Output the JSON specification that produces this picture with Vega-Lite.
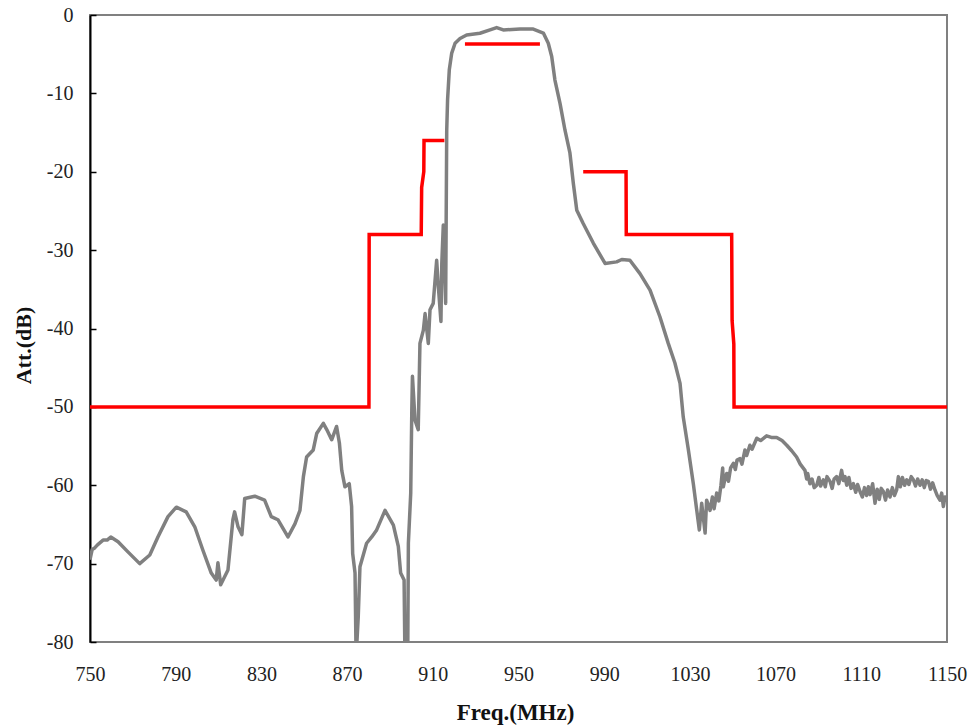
{
  "$schema": "https://vega.github.io/schema/vega-lite/v6.json",
  "width": 857,
  "height": 627,
  "autosize": {"type": "none"},
  "padding": {"left": 90, "top": 15, "right": 26, "bottom": 86},
  "background": "white",
  "config": {
    "view": {"stroke": "#808080", "strokeWidth": 2},
    "font": "Liberation Serif",
    "axis": {"grid": false, "labelFont": "Liberation Serif", "titleFont": "Liberation Serif", "labelColor": "#222", "titleColor": "#111"}
  },
  "datasets": {
    "meas": [
      {"f": 750.0, "db": -69.5}, {"f": 751.0, "db": -68.2}, {"f": 752.2, "db": -68.0}, {"f": 753.5, "db": -67.6}, {"f": 756.1, "db": -67.0}, {"f": 758.0, "db": -67.0}, {"f": 759.7, "db": -66.6},
      {"f": 763.1, "db": -67.2}, {"f": 767.7, "db": -68.5}, {"f": 773.2, "db": -70.0}, {"f": 777.9, "db": -68.9}, {"f": 781.7, "db": -66.6}, {"f": 786.4, "db": -64.0},
      {"f": 790.3, "db": -62.8}, {"f": 794.9, "db": -63.4}, {"f": 798.9, "db": -65.3}, {"f": 802.7, "db": -68.3}, {"f": 806.6, "db": -71.2}, {"f": 808.9, "db": -72.1},
      {"f": 809.7, "db": -69.9}, {"f": 811.0, "db": -72.7}, {"f": 814.4, "db": -70.8}, {"f": 816.7, "db": -64.4}, {"f": 817.5, "db": -63.4}, {"f": 819.1, "db": -65.3},
      {"f": 820.9, "db": -66.3}, {"f": 822.2, "db": -61.7}, {"f": 826.9, "db": -61.4}, {"f": 831.5, "db": -61.9}, {"f": 834.6, "db": -64.0}, {"f": 837.7, "db": -64.4},
      {"f": 842.4, "db": -66.6}, {"f": 845.7, "db": -64.9}, {"f": 848.0, "db": -63.2}, {"f": 849.6, "db": -58.9}, {"f": 851.1, "db": -56.4}, {"f": 854.2, "db": -55.5},
      {"f": 855.8, "db": -53.4}, {"f": 858.9, "db": -52.1}, {"f": 860.5, "db": -52.9}, {"f": 862.8, "db": -54.2}, {"f": 865.1, "db": -52.5}, {"f": 866.4, "db": -54.6},
      {"f": 867.5, "db": -58.1}, {"f": 869.0, "db": -60.2}, {"f": 871.0, "db": -59.8}, {"f": 872.1, "db": -62.7}, {"f": 872.6, "db": -68.7}, {"f": 873.7, "db": -71.2},
      {"f": 874.2, "db": -82}, {"f": 875.2, "db": -76.8}, {"f": 876.0, "db": -70.4}, {"f": 879.1, "db": -67.4}, {"f": 881.5, "db": -66.6}, {"f": 883.8, "db": -65.7},
      {"f": 887.7, "db": -63.2}, {"f": 891.6, "db": -65.1}, {"f": 893.9, "db": -67.8}, {"f": 895.0, "db": -71.2}, {"f": 896.6, "db": -72.1}, {"f": 897.0, "db": -82},
      {"f": 898.3, "db": -82}, {"f": 898.6, "db": -67.4}, {"f": 899.7, "db": -61.0}, {"f": 900.2, "db": -50.4}, {"f": 900.5, "db": -46.1}, {"f": 901.7, "db": -51.7},
      {"f": 903.2, "db": -52.9}, {"f": 904.0, "db": -41.9}, {"f": 905.6, "db": -40.2}, {"f": 906.4, "db": -38.1}, {"f": 907.9, "db": -41.9}, {"f": 908.7, "db": -37.6},
      {"f": 910.2, "db": -36.8}, {"f": 911.8, "db": -31.3}, {"f": 912.6, "db": -34.7}, {"f": 913.8, "db": -39.1}, {"f": 914.2, "db": -31.7}, {"f": 914.9, "db": -26.8},
      {"f": 916.0, "db": -36.8}, {"f": 916.5, "db": -14.7}, {"f": 916.9, "db": -10.8}, {"f": 917.7, "db": -7.0}, {"f": 918.8, "db": -4.9}, {"f": 920.4, "db": -3.6},
      {"f": 922.7, "db": -3.0}, {"f": 925.8, "db": -2.55}, {"f": 932.0, "db": -2.33}, {"f": 936.7, "db": -1.9}, {"f": 939.8, "db": -1.6}, {"f": 942.9, "db": -1.9},
      {"f": 950.7, "db": -1.8}, {"f": 956.9, "db": -1.8}, {"f": 961.6, "db": -2.3}, {"f": 963.9, "db": -3.6}, {"f": 965.5, "db": -5.3}, {"f": 967.0, "db": -8.3},
      {"f": 969.4, "db": -11.3}, {"f": 971.7, "db": -14.7}, {"f": 974.0, "db": -17.6}, {"f": 975.6, "db": -21.5}, {"f": 977.2, "db": -24.9}, {"f": 980.2, "db": -26.6},
      {"f": 984.9, "db": -29.1}, {"f": 990.4, "db": -31.7}, {"f": 995.8, "db": -31.5}, {"f": 998.2, "db": -31.2}, {"f": 1002.0, "db": -31.3}, {"f": 1006.7, "db": -33.0},
      {"f": 1011.4, "db": -35.1}, {"f": 1016.0, "db": -38.5}, {"f": 1019.9, "db": -41.9}, {"f": 1023.0, "db": -44.4}, {"f": 1025.4, "db": -47.0}, {"f": 1026.9, "db": -51.3},
      {"f": 1029.3, "db": -55.5}, {"f": 1031.6, "db": -59.8}, {"f": 1033.2, "db": -63.2}, {"f": 1034.4, "db": -65.7}, {"f": 1035.5, "db": -62.3}, {"f": 1037.1, "db": -66.1},
      {"f": 1037.8, "db": -61.9}, {"f": 1039.4, "db": -63.2}, {"f": 1040.5, "db": -61.5}, {"f": 1041.3, "db": -63.0}, {"f": 1042.5, "db": -61.0}, {"f": 1043.5, "db": -62.0},
      {"f": 1044.5, "db": -60.0}, {"f": 1045.3, "db": -57.8}, {"f": 1045.6, "db": -60.2}, {"f": 1046.5, "db": -59.0}, {"f": 1047.2, "db": -58.5}, {"f": 1048.0, "db": -59.5},
      {"f": 1049.0, "db": -57.8}, {"f": 1050.3, "db": -57.2}, {"f": 1051.2, "db": -58.0}, {"f": 1052.0, "db": -56.8}, {"f": 1053.4, "db": -56.6}, {"f": 1054.3, "db": -57.3},
      {"f": 1055.7, "db": -55.5}, {"f": 1056.5, "db": -56.2}, {"f": 1058.0, "db": -54.9}, {"f": 1059.0, "db": -55.4}, {"f": 1061.2, "db": -54.0}, {"f": 1063.0, "db": -54.3},
      {"f": 1065.8, "db": -53.7}, {"f": 1068.0, "db": -53.9}, {"f": 1070.5, "db": -53.9}, {"f": 1073.0, "db": -54.3}, {"f": 1075.2, "db": -54.9}, {"f": 1077.5, "db": -55.6},
      {"f": 1079.8, "db": -56.4}, {"f": 1081.5, "db": -57.3}, {"f": 1083.7, "db": -58.1}, {"f": 1084.5, "db": -59.2}, {"f": 1085.0, "db": -58.5}, {"f": 1086.0, "db": -59.8},
      {"f": 1087.0, "db": -59.2}, {"f": 1088.0, "db": -60.3}, {"f": 1089.2, "db": -60.0}, {"f": 1090.2, "db": -59.0}, {"f": 1091.0, "db": -60.1}, {"f": 1092.3, "db": -59.3},
      {"f": 1093.2, "db": -60.2}, {"f": 1094.0, "db": -58.9}, {"f": 1095.4, "db": -59.5}, {"f": 1096.4, "db": -60.4}, {"f": 1097.3, "db": -59.2}, {"f": 1098.5, "db": -58.9},
      {"f": 1099.5, "db": -59.8}, {"f": 1100.8, "db": -58.1}, {"f": 1101.6, "db": -59.4}, {"f": 1102.4, "db": -58.9}, {"f": 1103.2, "db": -60.0}, {"f": 1104.2, "db": -59.0},
      {"f": 1105.2, "db": -60.4}, {"f": 1106.3, "db": -59.8}, {"f": 1107.4, "db": -60.9}, {"f": 1108.3, "db": -59.9}, {"f": 1109.4, "db": -60.8}, {"f": 1110.5, "db": -61.5},
      {"f": 1111.5, "db": -60.3}, {"f": 1112.5, "db": -61.3}, {"f": 1113.3, "db": -60.2}, {"f": 1114.1, "db": -61.2}, {"f": 1115.3, "db": -59.8}, {"f": 1116.4, "db": -62.3},
      {"f": 1117.4, "db": -60.5}, {"f": 1118.4, "db": -61.8}, {"f": 1119.3, "db": -60.4}, {"f": 1120.3, "db": -60.8}, {"f": 1121.3, "db": -61.9}, {"f": 1122.3, "db": -60.6},
      {"f": 1123.4, "db": -61.5}, {"f": 1124.5, "db": -60.3}, {"f": 1125.5, "db": -61.3}, {"f": 1126.5, "db": -60.6}, {"f": 1127.3, "db": -58.9}, {"f": 1128.2, "db": -60.2},
      {"f": 1129.2, "db": -59.0}, {"f": 1130.2, "db": -60.0}, {"f": 1131.2, "db": -59.3}, {"f": 1132.2, "db": -59.9}, {"f": 1133.3, "db": -58.9}, {"f": 1134.3, "db": -59.3},
      {"f": 1135.3, "db": -60.1}, {"f": 1136.3, "db": -59.2}, {"f": 1137.4, "db": -60.0}, {"f": 1138.4, "db": -59.3}, {"f": 1139.4, "db": -60.3}, {"f": 1140.3, "db": -59.4},
      {"f": 1141.3, "db": -59.5}, {"f": 1142.3, "db": -60.5}, {"f": 1143.3, "db": -59.7}, {"f": 1144.4, "db": -60.6}, {"f": 1145.4, "db": -61.3}, {"f": 1146.7, "db": -61.9},
      {"f": 1147.5, "db": -61.0}, {"f": 1148.3, "db": -62.7}, {"f": 1149.1, "db": -61.5}, {"f": 1149.9, "db": -62.1}
    ],
    "mask": [
      {"f": 750, "db": -50, "seg": "a"}, {"f": 880.2, "db": -50, "seg": "a"}, {"f": 880.3, "db": -28, "seg": "a"}, {"f": 904.6, "db": -28, "seg": "a"},
      {"f": 904.8, "db": -22, "seg": "a"}, {"f": 905.8, "db": -20, "seg": "a"}, {"f": 905.9, "db": -16, "seg": "a"}, {"f": 915.4, "db": -16, "seg": "a"},
      {"f": 925.0, "db": -3.7, "seg": "b"}, {"f": 960.0, "db": -3.7, "seg": "b"},
      {"f": 980.2, "db": -20, "seg": "c"}, {"f": 1000.2, "db": -20, "seg": "c"}, {"f": 1000.3, "db": -28, "seg": "c"}, {"f": 1049.5, "db": -28, "seg": "c"},
      {"f": 1049.7, "db": -39, "seg": "c"}, {"f": 1050.5, "db": -42, "seg": "c"}, {"f": 1050.6, "db": -50, "seg": "c"}, {"f": 1150, "db": -50, "seg": "c"}
    ]
  },
  "layer": [
    {
      "data": {"name": "meas"},
      "mark": {"type": "line", "color": "#808080", "strokeWidth": 3.5, "clip": true, "strokeJoin": "round"},
      "encoding": {
        "x": {"field": "f", "type": "quantitative", "scale": {"domain": [750, 1150], "nice": false, "zero": false},
          "axis": {"values": [750, 790, 830, 870, 910, 950, 990, 1030, 1070, 1110, 1150], "labelExpr": "'' + datum.value", "labelFlush": false, "labelOverlap": false, "title": "Freq.(MHz)", "domain": false, "ticks": false,
            "labelFontSize": 20, "labelPadding": 22, "titleFontSize": 23, "titleFontWeight": "bold", "titleX": 425, "titleY": 70, "titleBaseline": "middle", "titleAlign": "center"}},
        "y": {"field": "db", "type": "quantitative", "scale": {"domain": [-80, 0], "nice": false, "zero": false},
          "axis": {"values": [0, -10, -20, -30, -40, -50, -60, -70, -80], "labelExpr": "'' + datum.value", "labelFlush": false, "labelOverlap": false, "title": "Att.(dB)", "domainColor": "#000", "domainWidth": 2, "tickColor": "#000", "tickWidth": 1.5, "tickSize": -6,
            "labelFontSize": 20, "labelPadding": 23, "titleFontSize": 22, "titleFontWeight": "bold", "titleAngle": -90, "titleX": -67, "titleY": 330, "titleBaseline": "middle", "titleAlign": "center"}}
      }
    },
    {
      "data": {"name": "mask"},
      "mark": {"type": "line", "color": "#FF0000", "strokeWidth": 3.5, "clip": true},
      "encoding": {
        "x": {"field": "f", "type": "quantitative"},
        "y": {"field": "db", "type": "quantitative"},
        "detail": {"field": "seg", "type": "nominal"}
      }
    },
    {
      "mark": {"type": "rule", "color": "#000", "strokeWidth": 2},
      "encoding": {"y": {"datum": 0}}
    }
  ]
}
